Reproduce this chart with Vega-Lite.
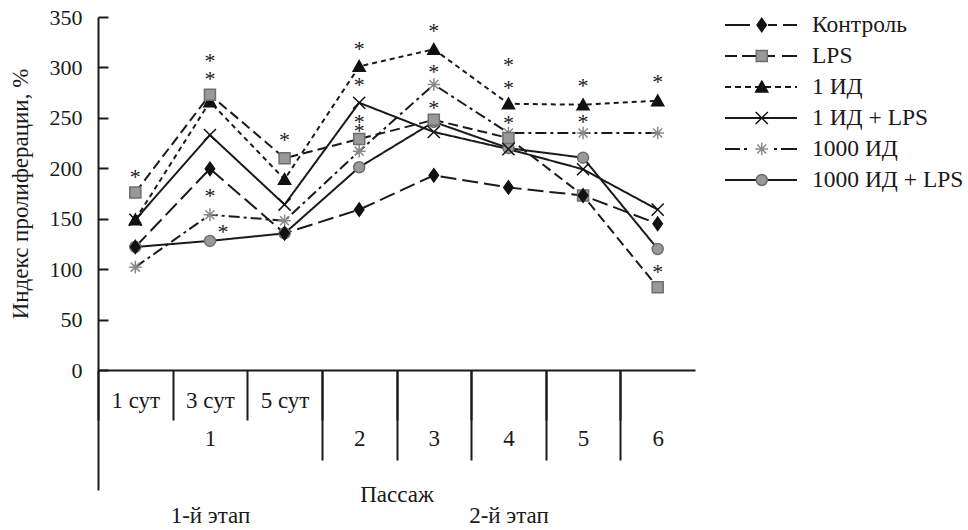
{
  "$schema": "https://vega.github.io/schema/vega-lite/v6.json",
  "width": 597,
  "height": 353,
  "autosize": {"type": "none"},
  "padding": {"left": 98, "top": 17, "right": 273, "bottom": 160},
  "background": "white",
  "config": {
    "view": {"stroke": null},
    "axis": {
      "domainColor": "#1a1a1a", "domainWidth": 2, "tickColor": "#1a1a1a", "tickWidth": 2,
      "labelFont": "Liberation Serif", "labelFontSize": 22, "labelColor": "#1a1a1a",
      "titleFont": "Liberation Serif", "titleFontSize": 23, "titleFontWeight": "normal", "titleColor": "#1a1a1a",
      "grid": false
    },
    "legend": {"labelFont": "Liberation Serif", "labelFontSize": 23.5, "labelColor": "#1a1a1a", "padding": 0}
  },
  "datasets": {
    "main": [
      {"series": "1000 ИД + LPS", "cat": "1 сут", "value": 122},
      {"series": "1000 ИД + LPS", "cat": "3 сут", "value": 128},
      {"series": "1000 ИД + LPS", "cat": "5 сут", "value": 135.5},
      {"series": "1000 ИД + LPS", "cat": "2", "value": 201},
      {"series": "1000 ИД + LPS", "cat": "3", "value": 246},
      {"series": "1000 ИД + LPS", "cat": "4", "value": 220},
      {"series": "1000 ИД + LPS", "cat": "5", "value": 210.5},
      {"series": "1000 ИД + LPS", "cat": "6", "value": 120},
      {"series": "1000 ИД", "cat": "1 сут", "value": 102},
      {"series": "1000 ИД", "cat": "3 сут", "value": 154},
      {"series": "1000 ИД", "cat": "5 сут", "value": 148},
      {"series": "1000 ИД", "cat": "2", "value": 217},
      {"series": "1000 ИД", "cat": "3", "value": 283},
      {"series": "1000 ИД", "cat": "4", "value": 235},
      {"series": "1000 ИД", "cat": "5", "value": 235},
      {"series": "1000 ИД", "cat": "6", "value": 235},
      {"series": "1 ИД", "cat": "1 сут", "value": 149},
      {"series": "1 ИД", "cat": "3 сут", "value": 266},
      {"series": "1 ИД", "cat": "5 сут", "value": 189},
      {"series": "1 ИД", "cat": "2", "value": 301},
      {"series": "1 ИД", "cat": "3", "value": 318},
      {"series": "1 ИД", "cat": "4", "value": 264},
      {"series": "1 ИД", "cat": "5", "value": 263},
      {"series": "1 ИД", "cat": "6", "value": 267},
      {"series": "LPS", "cat": "1 сут", "value": 176},
      {"series": "LPS", "cat": "3 сут", "value": 273},
      {"series": "LPS", "cat": "5 сут", "value": 210},
      {"series": "LPS", "cat": "2", "value": 229},
      {"series": "LPS", "cat": "3", "value": 248},
      {"series": "LPS", "cat": "4", "value": 230},
      {"series": "LPS", "cat": "5", "value": 173},
      {"series": "LPS", "cat": "6", "value": 82},
      {"series": "1 ИД + LPS", "cat": "1 сут", "value": 149},
      {"series": "1 ИД + LPS", "cat": "3 сут", "value": 233},
      {"series": "1 ИД + LPS", "cat": "5 сут", "value": 164},
      {"series": "1 ИД + LPS", "cat": "2", "value": 265},
      {"series": "1 ИД + LPS", "cat": "3", "value": 236},
      {"series": "1 ИД + LPS", "cat": "4", "value": 219},
      {"series": "1 ИД + LPS", "cat": "5", "value": 199},
      {"series": "1 ИД + LPS", "cat": "6", "value": 159},
      {"series": "Контроль", "cat": "1 сут", "value": 122},
      {"series": "Контроль", "cat": "3 сут", "value": 199.5},
      {"series": "Контроль", "cat": "5 сут", "value": 135.5},
      {"series": "Контроль", "cat": "2", "value": 159},
      {"series": "Контроль", "cat": "3", "value": 193},
      {"series": "Контроль", "cat": "4", "value": 181},
      {"series": "Контроль", "cat": "5", "value": 173},
      {"series": "Контроль", "cat": "6", "value": 145}
    ],
    "stars": [
      {"cat": "1 сут", "value": 195, "beside": false},
      {"cat": "3 сут", "value": 310.6, "beside": false},
      {"cat": "3 сут", "value": 292.5, "beside": false},
      {"cat": "3 сут", "value": 176.8, "beside": false},
      {"cat": "3 сут", "value": 140.5, "beside": true},
      {"cat": "5 сут", "value": 232, "beside": false},
      {"cat": "2", "value": 322.2, "beside": false},
      {"cat": "2", "value": 286.5, "beside": false},
      {"cat": "2", "value": 249.6, "beside": false},
      {"cat": "2", "value": 241.2, "beside": false},
      {"cat": "3", "value": 340.4, "beside": false},
      {"cat": "3", "value": 299.1, "beside": false},
      {"cat": "3", "value": 263.4, "beside": false},
      {"cat": "4", "value": 306.4, "beside": false},
      {"cat": "4", "value": 283.6, "beside": false},
      {"cat": "4", "value": 248.9, "beside": false},
      {"cat": "5", "value": 285.8, "beside": false},
      {"cat": "5", "value": 249.5, "beside": false},
      {"cat": "6", "value": 289.2, "beside": false},
      {"cat": "6", "value": 101.4, "beside": false}
    ]
  },
  "encoding": {
    "y": {
      "field": "value", "type": "quantitative",
      "scale": {"domain": [0, 350], "nice": false, "zero": true},
      "axis": {
        "values": [0, 50, 100, 150, 200, 250, 300, 350],
        "tickSize": -10, "labelPadding": 26,
        "title": "Индекс пролиферации, %", "titleX": -71, "titleBaseline": "alphabetic"
      }
    }
  },
  "layer": [
    {
      "data": {"name": "main"},
      "mark": {"type": "line", "stroke": "#1a1a1a", "strokeWidth": 2},
      "encoding": {
        "x": {
          "field": "cat", "type": "ordinal", "sort": null,
          "scale": {"type": "point", "domain": ["1 сут", "3 сут", "5 сут", "2", "3", "4", "5", "6"], "padding": 0.5},
          "axis": {
            "orient": "bottom",
            "title": null, "tickSize": 50, "tickOffset": -37.3125, "labelOffset": 37.3125,
            "labelFontSize": 23,
            "labelPadding": -31, "labelLineHeight": 38.5, "labelAngle": 0, "labelBaseline": "top",
            "labelAlign": "center", "labelOverlap": false, "labelBound": false, "labelFlush": false,
            "labelExpr": "datum.value == '1 сут' ? ['1 сут'] : datum.value == '3 сут' ? ['3 сут', '1', '\u200b', '1-й этап'] : datum.value == '5 сут' ? ['5 сут'] : datum.value == '4' ? ['\u200b', '4', '\u200b', '2-й этап'] : ['\u200b', datum.value]"
          }
        },
        "strokeDash": {
          "field": "series", "type": "nominal",
          "scale": {"domain": ["Контроль", "LPS", "1 ИД", "1 ИД + LPS", "1000 ИД", "1000 ИД + LPS"],
                    "range": [[16, 6], [10, 5], [5, 4], [1, 0], [11, 4, 3, 4], [1, 0]]},
          "legend": null
        },
        "order": {"value": null}
      }
    },
    {
      "data": {"name": "main"},
      "mark": {"type": "line", "stroke": "#1a1a1a", "strokeWidth": 2, "opacity": 0},
      "encoding": {
        "x": {
          "field": "cat", "type": "ordinal", "sort": null,
          "scale": {"type": "point", "domain": ["1 сут", "3 сут", "5 сут", "2", "3", "4", "5", "6"], "padding": 0.5},
          "axis": null
        },
        "strokeDash": {
          "field": "series", "type": "nominal",
          "scale": {"domain": ["Контроль", "LPS", "1 ИД", "1 ИД + LPS", "1000 ИД", "1000 ИД + LPS"],
                    "range": [[25, 18, 9, 6, 14, 20], [12, 5, 33, 7, 15, 20], [6, 4], [1, 0], [15, 4, 3, 27, 3, 4, 16, 10], [1, 0]]},
          "legend": {
            "title": null, "orient": "none", "legendX": 626, "legendY": -5,
            "symbolType": "stroke", "symbolSize": 5184, "symbolStrokeWidth": 2,
            "symbolStrokeColor": "#1a1a1a", "symbolOpacity": 1,
            "labelOffset": 14, "clipHeight": 26, "rowPadding": 5
          }
        },
        "order": {"value": null}
      }
    },
    {
      "data": {"name": "main"},
      "mark": {"type": "point", "filled": true, "size": 121, "strokeWidth": 1.5, "opacity": 1},
      "encoding": {
        "x": {
          "field": "cat", "type": "ordinal", "sort": null,
          "scale": {"type": "point", "domain": ["1 сут", "3 сут", "5 сут", "2", "3", "4", "5", "6"], "padding": 0.5},
          "axis": {"orient": "bottom", "values": ["2", "3", "4", "5", "6"], "tickSize": 90, "tickOffset": -37.3125, "labels": false, "domain": false, "title": null}
        },
        "shape": {
          "field": "series", "type": "nominal",
          "scale": {"domain": ["Контроль", "LPS", "1 ИД", "1 ИД + LPS", "1000 ИД", "1000 ИД + LPS"],
                    "range": ["M0,-1.2L0.85,0L0,1.2L-0.85,0Z", "M-1,-1H1V1H-1Z", "M0,-1.05L1.1,0.9L-1.1,0.9Z", "M-1.1,-1.1L1.1,1.1M-1.1,1.1L1.1,-1.1", "M-1.15,0H1.15M0,-1.15V1.15M-0.82,-0.82L0.82,0.82M-0.82,0.82L0.82,-0.82", "circle"]},
          "legend": {"title": null, "orient": "none", "legendX": 626, "legendY": -5, "symbolSize": 121, "symbolStrokeWidth": 1.5, "symbolOffset": 26, "symbolOpacity": 1, "labelOpacity": 0, "labelOffset": 14, "clipHeight": 26, "rowPadding": 5}
        },
        "fill": {
          "field": "series", "type": "nominal",
          "scale": {"domain": ["Контроль", "LPS", "1 ИД", "1 ИД + LPS", "1000 ИД", "1000 ИД + LPS"],
                    "range": ["#111111", "#999999", "#111111", "transparent", "transparent", "#999999"]},
          "legend": {"title": null, "orient": "none", "legendX": 626, "legendY": -5, "symbolSize": 121, "symbolStrokeWidth": 1.5, "symbolOffset": 26, "symbolOpacity": 1, "labelOpacity": 0, "labelOffset": 14, "clipHeight": 26, "rowPadding": 5}
        },
        "stroke": {
          "field": "series", "type": "nominal",
          "scale": {"domain": ["Контроль", "LPS", "1 ИД", "1 ИД + LPS", "1000 ИД", "1000 ИД + LPS"],
                    "range": ["#111111", "#6e6e6e", "#111111", "#111111", "#8a8a8a", "#6e6e6e"]},
          "legend": {"title": null, "orient": "none", "legendX": 626, "legendY": -5, "symbolSize": 121, "symbolStrokeWidth": 1.5, "symbolOffset": 26, "symbolOpacity": 1, "labelOpacity": 0, "labelOffset": 14, "clipHeight": 26, "rowPadding": 5}
        }
      }
    },
    {
      "data": {"name": "stars"},
      "transform": [{"filter": "!datum.beside"}],
      "mark": {"type": "text", "text": "*", "font": "Liberation Serif", "fontSize": 22, "baseline": "middle", "dy": 4, "fill": "#1a1a1a"},
      "encoding": {
        "x": {
          "field": "cat", "type": "ordinal", "sort": null,
          "scale": {"type": "point", "domain": ["1 сут", "3 сут", "5 сут", "2", "3", "4", "5", "6"], "padding": 0.5},
          "axis": {"orient": "bottom", "values": ["1 сут"], "tickSize": 120, "tickOffset": -37.3125, "labels": false, "domain": false,
                   "title": "Пассаж", "titleY": 124, "titleBaseline": "middle"}
        }
      }
    },
    {
      "data": {"name": "stars"},
      "transform": [{"filter": "datum.beside"}],
      "mark": {"type": "text", "text": "*", "font": "Liberation Serif", "fontSize": 22, "baseline": "middle", "dy": 4, "dx": 13, "fill": "#1a1a1a"},
      "encoding": {
        "x": {
          "field": "cat", "type": "ordinal", "sort": null,
          "scale": {"type": "point", "domain": ["1 сут", "3 сут", "5 сут", "2", "3", "4", "5", "6"], "padding": 0.5},
          "axis": null
        }
      }
    }
  ],
  "resolve": {
    "scale": {"strokeDash": "independent", "shape": "independent", "fill": "independent", "stroke": "independent"},
    "axis": {"x": "independent"}
  }
}
